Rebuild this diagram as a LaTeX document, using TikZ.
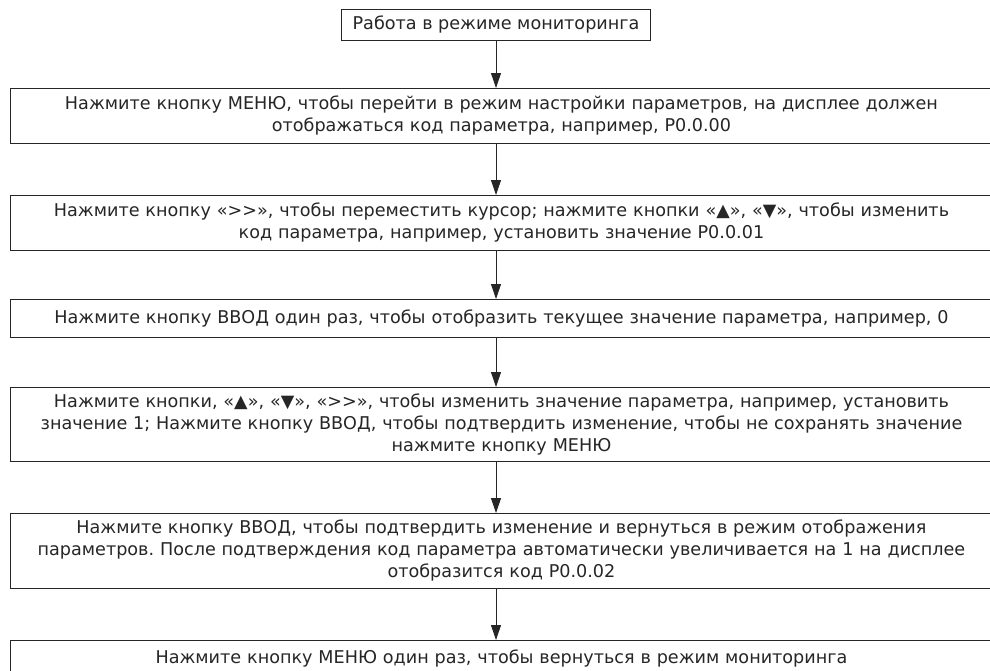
\documentclass[tikz,border=0pt]{standalone}
\usepackage{fontspec}
\setmainfont{DejaVu Sans}
\frenchspacing
\usetikzlibrary{positioning, arrows.meta}

\begin{document}
\begin{tikzpicture}[x=1pt, y=1pt,
    % Node styles
    stage/.style={rectangle, draw=black!85, line width=0.9pt, fill=white, text=black!85, font=\fontsize{17.6}{22}\selectfont, align=center, inner sep=0pt},
    wide stage/.style={stage, anchor=north west, text width=982pt},
    % Edge styles
    flow/.style={-{Triangle[length=15pt, width=10pt]}, line width=0.9pt, black!85}
]
\useasboundingbox (0,0) rectangle (990,-670);
% Steps
\node[stage, anchor=north, inner xsep=11pt, minimum height=31pt] (s1) at (496,-9) {Работа в режиме мониторинга};
\node[wide stage, minimum height=55pt] (s2) at (10,-88) {Нажмите кнопку МЕНЮ, чтобы перейти в режим настройки параметров, на дисплее должен\\отображаться код параметра, например, P0.0.00};
\node[wide stage, minimum height=55pt] (s3) at (10,-195) {Нажмите кнопку «>{}>», чтобы переместить курсор; нажмите кнопки «▲», «▼», чтобы изменить\\код параметра, например, установить значение P0.0.01};
\node[wide stage, minimum height=38pt] (s4) at (10,-299) {Нажмите кнопку ВВОД один раз, чтобы отобразить текущее значение параметра, например, 0};
\node[wide stage, minimum height=74pt] (s5) at (10,-387) {Нажмите кнопки, «▲», «▼», «>{}>», чтобы изменить значение параметра, например, установить\\значение 1; Нажмите кнопку ВВОД, чтобы подтвердить изменение, чтобы не сохранять значение\\нажмите кнопку МЕНЮ};
\node[wide stage, minimum height=75pt] (s6) at (10,-513) {Нажмите кнопку ВВОД, чтобы подтвердить изменение и вернуться в режим отображения\\параметров. После подтверждения код параметра автоматически увеличивается на 1 на дисплее\\отобразится код P0.0.02};
\node[wide stage, minimum height=36pt] (s7) at (10,-640) {Нажмите кнопку МЕНЮ один раз, чтобы вернуться в режим мониторинга};
% Flow between steps
\draw[flow] (s1.south) -- (s1.south |- s2.north);
\draw[flow] (s1.south |- s2.south) -- (s1.south |- s3.north);
\draw[flow] (s1.south |- s3.south) -- (s1.south |- s4.north);
\draw[flow] (s1.south |- s4.south) -- (s1.south |- s5.north);
\draw[flow] (s1.south |- s5.south) -- (s1.south |- s6.north);
\draw[flow] (s1.south |- s6.south) -- (s1.south |- s7.north);
\end{tikzpicture}
\end{document}
